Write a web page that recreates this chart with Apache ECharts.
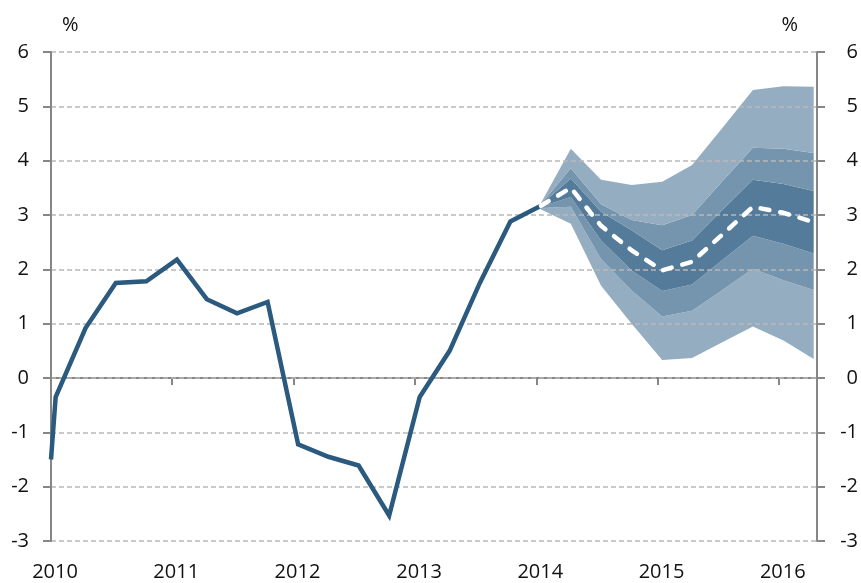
<!DOCTYPE html>
<html>
<head>
<meta charset="utf-8">
<script src="https://cdn.jsdelivr.net/npm/echarts@6/dist/echarts.min.js"></script>
<style>
  html, body { margin: 0; padding: 0; background: #fff; }
  #chart { width: 861px; height: 583px; }
</style>
</head>
<body>
<div id="chart"></div>
<script>
// historic quarterly outturns (first value is where the line enters at the left edge)
const histDates = ['2010-01-01',
  '2010-01-15', '2010-04-15', '2010-07-15', '2010-10-15',
  '2011-01-15', '2011-04-15', '2011-07-15', '2011-10-15',
  '2012-01-15', '2012-04-15', '2012-07-15', '2012-10-15',
  '2013-01-15', '2013-04-15', '2013-07-15', '2013-10-15',
  '2014-01-15'];
const histValues = [-1.5,
  -0.35, 0.92, 1.75, 1.78,
  2.18, 1.45, 1.19, 1.40,
  -1.22, -1.45, -1.61, -2.53,
  -0.35, 0.50, 1.75, 2.88,
  3.17];

// projection fan
const fanDates = ['2014-01-15', '2014-04-15', '2014-07-15', '2014-10-15',
  '2015-01-15', '2015-04-15', '2015-07-15', '2015-10-15',
  '2016-01-15', '2016-04-15'];
const centre    = [3.17, 3.50, 2.80, 2.35, 1.98, 2.14, 2.64, 3.15, 3.04, 2.87];
const outerHigh = [3.22, 4.22, 3.65, 3.55, 3.61, 3.92, 4.60, 5.30, 5.37, 5.36];
const midHigh   = [3.20, 3.86, 3.20, 2.91, 2.81, 3.00, 3.62, 4.24, 4.22, 4.14];
const innerHigh = [3.19, 3.67, 3.06, 2.72, 2.35, 2.53, 3.09, 3.65, 3.57, 3.44];
const innerLow  = [3.15, 3.33, 2.53, 1.98, 1.60, 1.72, 2.17, 2.62, 2.47, 2.29];
const midLow    = [3.13, 3.15, 2.19, 1.61, 1.13, 1.24, 1.62, 2.01, 1.80, 1.62];
const outerLow  = [3.10, 2.84, 1.70, 1.00, 0.33, 0.37, 0.66, 0.95, 0.69, 0.35];

const yTicks = { min: -3, max: 6, step: 1 };

const lineColor = '#2b5a7e';
const light = '#95adc0';
const mid = '#7495ad';
const dark = '#547b99';
const axisGray = '#868686';
const FONT = 'Open Sans';
const FS = 20;

const YEAR = 365 * 24 * 3600 * 1000;

function diff(a, b) {
  return a.map((v, i) => +(v - b[i]).toFixed(3));
}
function pairs(dates, vals) {
  return dates.map((d, i) => [d, vals[i]]);
}

// stacked layers of the fan, from the bottom up
const layers = [
  { vals: outerLow, color: null },
  { vals: diff(midLow, outerLow), color: light },
  { vals: diff(innerLow, midLow), color: mid },
  { vals: diff(innerHigh, innerLow), color: dark },
  { vals: diff(midHigh, innerHigh), color: mid },
  { vals: diff(outerHigh, midHigh), color: light }
];

const fanSeries = layers.map((l, i) => ({
  name: 'fan' + i,
  type: 'line',
  stack: 'fan',
  data: pairs(fanDates, l.vals),
  symbol: 'none',
  silent: true,
  z: 1,
  lineStyle: { width: 0, opacity: 0 },
  areaStyle: l.color ? { color: l.color, opacity: 1 } : null
}));

const chart = echarts.init(document.getElementById('chart'), null, { renderer: 'canvas' });

const xBase = {
  type: 'time',
  min: '2010-01-01',
  max: '2016-04-25',
  minInterval: YEAR,
  maxInterval: YEAR * 1.01,
  splitLine: { show: false }
};

const yBase = {
  type: 'value',
  min: yTicks.min,
  max: yTicks.max,
  interval: yTicks.step,
  name: '%',
  nameLocation: 'end',
  nameGap: 17,
  axisLine: { show: true, lineStyle: { color: axisGray, width: 2 } },
  axisTick: { show: true, length: 8, lineStyle: { color: axisGray, width: 2 } },
  axisLabel: { fontFamily: FONT, fontSize: FS, color: '#111' }
};

chart.setOption({
  animation: false,
  grid: { left: 51, right: 44, top: 52, bottom: 42 },
  xAxis: [
    Object.assign({}, xBase, {
      position: 'bottom',
      axisLine: { show: false, onZero: false },
      axisTick: { show: false },
      axisLabel: {
        formatter: '{yyyy}',
        fontFamily: FONT, fontSize: FS, color: '#111',
        margin: 21,
        padding: [0, 0, 0, 8],
        showMinLabel: true,
        showMaxLabel: false
      }
    }),
    Object.assign({}, xBase, {
      position: 'bottom',
      axisLine: { show: true, onZero: true, lineStyle: { color: axisGray, width: 2 } },
      axisTick: { show: true, length: 7, lineStyle: { color: axisGray, width: 2 } },
      axisLabel: { show: false }
    })
  ],
  yAxis: [
    Object.assign({}, yBase, {
      position: 'left',
      z: 3,
      nameTextStyle: { fontFamily: FONT, fontSize: FS, color: '#111', align: 'left', padding: [0, 0, 0, 11] },
      splitLine: { show: true, lineStyle: { color: '#b8b8b8', type: [5, 3], width: 1.5 } },
      axisLabel: Object.assign({}, yBase.axisLabel, { margin: 22 })
    }),
    Object.assign({}, yBase, {
      position: 'right',
      z: 3,
      nameTextStyle: { fontFamily: FONT, fontSize: FS, color: '#111', align: 'right', padding: [0, 19, 0, 0] },
      splitLine: { show: false },
      axisLabel: Object.assign({}, yBase.axisLabel, { margin: 41, align: 'right' })
    })
  ],
  series: fanSeries.concat([
    {
      name: 'Outturn',
      type: 'line',
      data: pairs(histDates, histValues),
      symbol: 'none',
      z: 5,
      lineStyle: { color: lineColor, width: 4.5, join: 'miter' }
    },
    {
      name: 'Central projection',
      type: 'line',
      data: pairs(fanDates, centre),
      symbol: 'none',
      z: 6,
      lineStyle: { color: '#ffffff', width: 4.5, type: [9, 11], cap: 'round', join: 'round' }
    }
  ])
});
</script>
</body>
</html>
